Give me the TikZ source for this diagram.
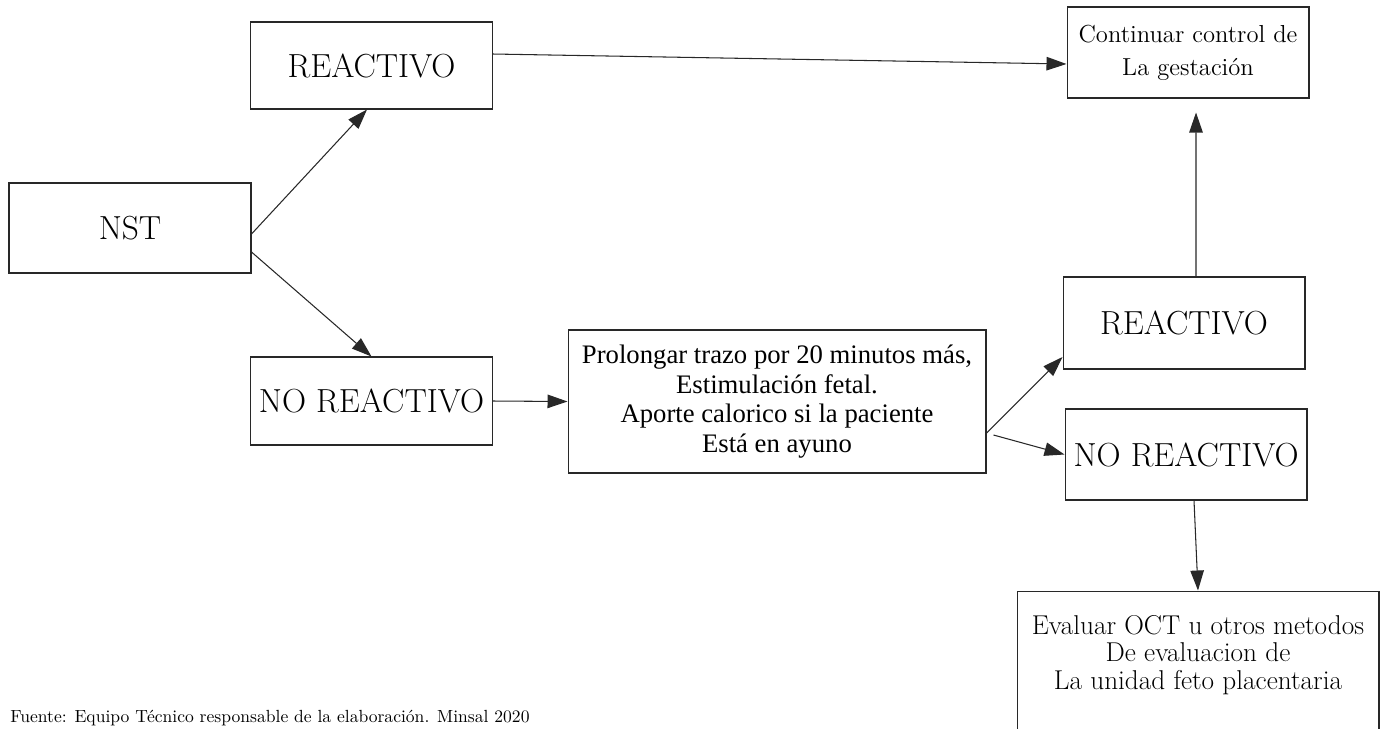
\documentclass[tikz,border=0pt]{standalone}
\usepackage{xcolor}
\usepackage{fontspec}
\newfontfamily\timesfont{Liberation Serif}
\usetikzlibrary{arrows.meta,positioning}
\definecolor{boxline}{RGB}{40,40,40}

\begin{document}
\begin{tikzpicture}[x=0.02cm, y=-0.02cm,
        box/.style={rectangle, draw=boxline, line width=0.6pt, inner sep=0pt, align=center, minimum width=4.84cm, minimum height=1.8cm, font=\fontsize{19}{22}\selectfont},
        note/.style={box, font=\fontsize{14}{18.8}\selectfont},
        arrow/.style={-{Triangle[length=0.4cm,width=0.27cm]}, line width=0.6pt, draw=boxline}]
      \useasboundingbox (0,0) rectangle (1385,728);

      \node[box, minimum height=1.74cm] (reac1) at (371.5,65.5) {REACTIVO};
      \node[note, minimum height=1.82cm] (cont) at (1188,52.5) {Continuar control de\\La gestación};
      \node[box] (nst) at (130,228) {NST};
      \node[box, minimum height=1.76cm] (noreac1) at (371.5,401) {NO REACTIVO};
      \node[box, minimum width=8.36cm, minimum height=2.86cm, font=\timesfont\fontsize{15.2}{16.9}\selectfont] (prol) at (777,401.5)
        {Prolongar trazo por 20 minutos más,\\Estimulación fetal.\\Aporte calorico si la paciente\\Está en ayuno};
      \node[box, minimum height=1.84cm] (reac2) at (1184,323) {REACTIVO};
      \node[box, minimum height=1.82cm] (noreac2) at (1186,454.5) {NO REACTIVO};
      \node[box, font=\fontsize{15.5}{15.6}\selectfont] (eval) at (1198,663)
        {\parbox[c][2.88cm][c]{7.24cm}{\centering Evaluar OCT u otros metodos\\De evaluacion de\\La unidad feto placentaria\par\vspace*{0.32cm}}};

      \node[anchor=base west, inner sep=0pt, font=\fontsize{10}{12}\selectfont] (src) at (10,722)
        {Fuente: Equipo Técnico responsable de la elaboración. Minsal 2020};

      \draw[arrow] ([yshift=-0.12cm]nst.east) -- ([xshift=-0.09cm]reac1.south);
      \draw[arrow] ([yshift=-0.48cm]nst.east) -- (noreac1.north);
      \draw[arrow] ([yshift=0.23cm]reac1.east) -- ([yshift=-0.23cm]cont.west);
      \draw[arrow] (noreac1.east) -- (prol.west);
      \draw[arrow] ([yshift=-0.63cm]prol.east) -- ([yshift=-0.68cm]reac2.west);
      \draw[arrow] ([xshift=0.14cm,yshift=-0.67cm]prol.east) -- (noreac2.west);
      \draw[arrow] ([xshift=0.24cm]reac2.north) -- ([xshift=0.16cm,yshift=-0.28cm]cont.south);
      \draw[arrow] ([xshift=0.16cm]noreac2.south) -- (eval.north);
    \end{tikzpicture}
\end{document}
